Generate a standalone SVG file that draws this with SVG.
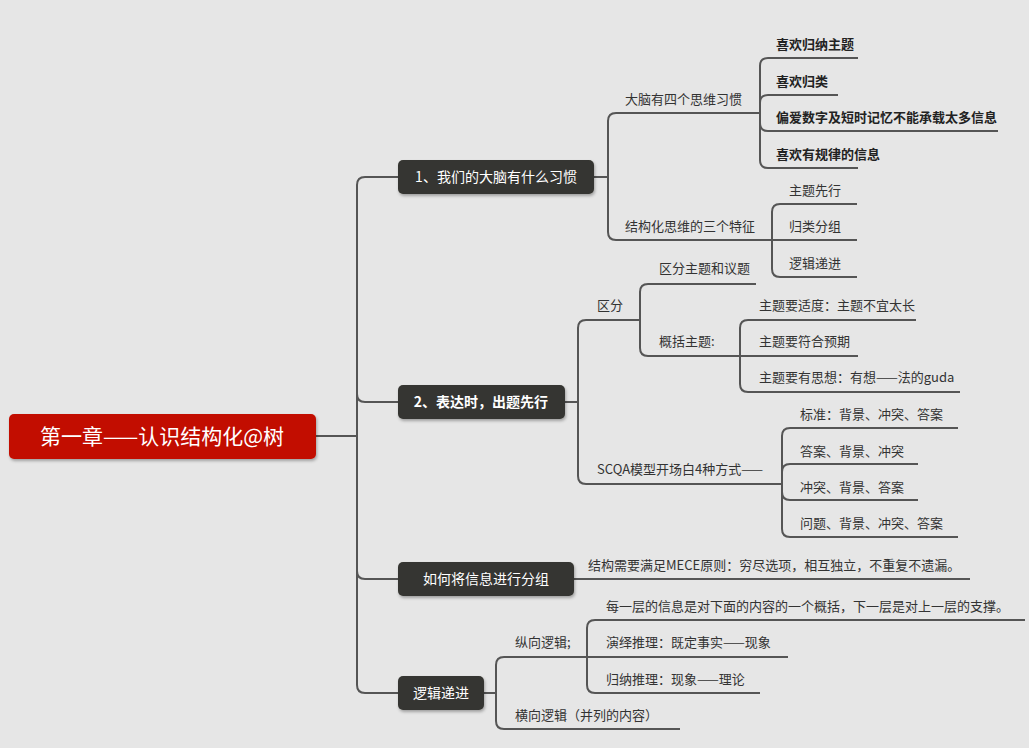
<svg xmlns="http://www.w3.org/2000/svg" width="1029" height="748" viewBox="0 0 1029 748">
<style>
.c{fill:none;stroke:#555;stroke-width:2}
text{font-family:"Noto Sans CJK SC","Liberation Sans",sans-serif;font-size:13px;fill:#333}
.b{font-weight:bold;fill:#222}
.n{fill:#fff;font-size:14px}
.dark{fill:#363632}
</style>
<defs><filter id="sh" x="-10%" y="-20%" width="130%" height="160%"><feDropShadow dx="1" dy="2" stdDeviation="1.5" flood-opacity="0.3"/></filter></defs>
<rect width="1029" height="748" fill="#e6e6e6"/>
<g id="connectors">
<path class="c" d="M316 436H357V185Q357 177 365 177H398"/>
<path class="c" d="M316 436H357V394Q357 402 365 402H398"/>
<path class="c" d="M316 436H357V571Q357 579 365 579H398"/>
<path class="c" d="M316 436H357V685Q357 693 365 693H398"/>
<path class="c" d="M594 177H608V121Q608 113 616 113H758"/>
<path class="c" d="M594 177H608V232Q608 240 616 240H772"/>
<path class="c" d="M758 113H760V66Q760 58 768 58H858"/>
<path class="c" d="M758 113H760V103Q760 95 768 95H838"/>
<path class="c" d="M758 113H760V123Q760 131 768 131H998"/>
<path class="c" d="M758 113H760V160Q760 168 768 168H858"/>
<path class="c" d="M772 240V212Q772 204 780 204H857"/>
<path class="c" d="M772 240H857"/>
<path class="c" d="M772 240V269Q772 277 780 277H857"/>
<path class="c" d="M565 402H578V328Q578 320 586 320H640"/>
<path class="c" d="M565 402H578V476Q578 484 586 484H782"/>
<path class="c" d="M640 320V292Q640 284 648 284H756"/>
<path class="c" d="M640 320V348Q640 356 648 356H740"/>
<path class="c" d="M740 356V328Q740 320 748 320H916"/>
<path class="c" d="M740 356H858"/>
<path class="c" d="M740 356V384Q740 392 748 392H960"/>
<path class="c" d="M782 484V436Q782 428 790 428H958"/>
<path class="c" d="M782 484V472Q782 464 790 464H918"/>
<path class="c" d="M782 484V492Q782 500 790 500H918"/>
<path class="c" d="M782 484V529Q782 537 790 537H958"/>
<path class="c" d="M574 579H970"/>
<path class="c" d="M484 693H496V665Q496 657 504 657H587"/>
<path class="c" d="M484 693H496V721Q496 729 504 729H680"/>
<path class="c" d="M587 657V628Q587 620 595 620H1025"/>
<path class="c" d="M587 657H788"/>
<path class="c" d="M587 657V685Q587 693 595 693H760"/>
</g>
<g id="root"><rect x="9" y="414" width="307" height="45" rx="5" fill="#c21000" filter="url(#sh)"/><text x="162" y="444" text-anchor="middle" style="font-size:21px;fill:#fff">第一章——认识结构化@树</text></g>
<g id="b1"><rect class="dark" x="398" y="160" width="196" height="34" rx="5" filter="url(#sh)"/><text class="n" x="496" y="182" text-anchor="middle">1、我们的大脑有什么习惯</text></g>
<g id="b2"><rect class="dark" x="398" y="385" width="167" height="34" rx="5" filter="url(#sh)"/><text class="n b" x="481" y="407" text-anchor="middle" style="fill:#fff">2、表达时，出题先行</text></g>
<g id="b3"><rect class="dark" x="398" y="562" width="176" height="34" rx="5" filter="url(#sh)"/><text class="n" x="486" y="584" text-anchor="middle">如何将信息进行分组</text></g>
<g id="b4"><rect class="dark" x="398" y="676" width="86" height="34" rx="5" filter="url(#sh)"/><text class="n" x="441" y="698" text-anchor="middle">逻辑递进</text></g>
<g id="t1"><text x="625" y="104">大脑有四个思维习惯</text></g>
<g id="t1a"><text class="b" x="776" y="49">喜欢归纳主题</text></g>
<g id="t1b"><text class="b" x="776" y="86">喜欢归类</text></g>
<g id="t1c"><text class="b" x="776" y="122">偏爱数字及短时记忆不能承载太多信息</text></g>
<g id="t1d"><text class="b" x="776" y="159">喜欢有规律的信息</text></g>
<g id="t2"><text x="625" y="231">结构化思维的三个特征</text></g>
<g id="t2a"><text x="789" y="195">主题先行</text></g>
<g id="t2b"><text x="789" y="231">归类分组</text></g>
<g id="t2c"><text x="789" y="268">逻辑递进</text></g>
<g id="t3"><text x="597" y="310">区分</text></g>
<g id="t3a"><text x="659" y="273">区分主题和议题</text></g>
<g id="t3b"><text x="659" y="346">概括主题:</text></g>
<g id="t3b1"><text x="759" y="310">主题要适度：主题不宜太长</text></g>
<g id="t3b2"><text x="759" y="346">主题要符合预期</text></g>
<g id="t3b3"><text x="759" y="382">主题要有思想：有想——法的guda</text></g>
<g id="t4"><text x="597" y="474">SCQA模型开场白4种方式——</text></g>
<g id="t4a"><text x="800" y="419">标准：背景、冲突、答案</text></g>
<g id="t4b"><text x="800" y="456">答案、背景、冲突</text></g>
<g id="t4c"><text x="800" y="492">冲突、背景、答案</text></g>
<g id="t4d"><text x="800" y="528">问题、背景、冲突、答案</text></g>
<g id="t5"><text x="588" y="570">结构需要满足MECE原则：穷尽选项，相互独立，不重复不遗漏。</text></g>
<g id="t6"><text x="515" y="647">纵向逻辑;</text></g>
<g id="t6a"><text x="606" y="611">每一层的信息是对下面的内容的一个概括，下一层是对上一层的支撑。</text></g>
<g id="t6b"><text x="606" y="647">演绎推理：既定事实——现象</text></g>
<g id="t6c"><text x="606" y="684">归纳推理：现象——理论</text></g>
<g id="t7"><text x="515" y="720">横向逻辑（并列的内容）</text></g>
</svg>
